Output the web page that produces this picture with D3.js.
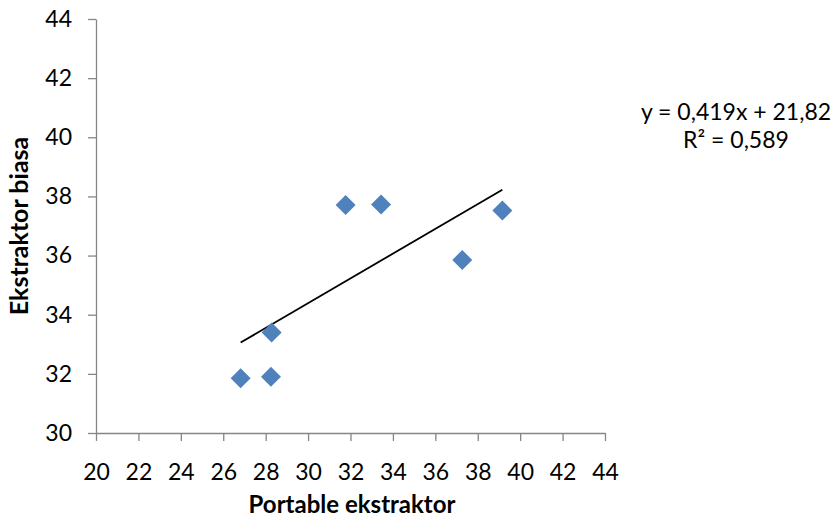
<!DOCTYPE html>
<html>
<head>
<meta charset="utf-8">
<script src="https://cdn.jsdelivr.net/npm/d3@7"></script>
<style>
  html, body { margin: 0; padding: 0; background: #fff; }
  svg { display: block; font-family: Lato, "Open Sans", sans-serif; }
</style>
</head>
<body>
<svg id="chart" width="838" height="519"></svg>
<script>
// Measurements: portable extractor (x) vs. regular extractor (y)
const portable = [26.82, 28.25, 28.28, 31.77, 33.44, 37.27, 39.16];
const biasa    = [31.85, 31.90, 33.40, 37.71, 37.73, 35.85, 37.52];

// Linear trendline as reported
const slope = 0.419;
const intercept = 21.82;
const rSquared = 0.589;

const xTicks = [20, 22, 24, 26, 28, 30, 32, 34, 36, 38, 40, 42, 44];
const yTicks = [30, 32, 34, 36, 38, 40, 42, 44];

const svg = d3.select("#chart");
const plot = { left: 96, right: 605, top: 19, bottom: 433 };

const x = d3.scaleLinear().domain([20, 44]).range([plot.left, plot.right]);
const y = d3.scaleLinear().domain([30, 44]).range([plot.bottom, plot.top]);

const axisColor = "#868686";
const tickFont = 23;
const fmt = d => String(d);

// Y axis
const gy = svg.append("g")
  .attr("transform", `translate(${plot.left},0)`)
  .call(d3.axisLeft(y).tickValues(yTicks).tickFormat(fmt).tickSizeOuter(0).tickSizeInner(8).tickPadding(16));
gy.select(".domain").attr("stroke", axisColor).attr("stroke-width", 1.3);
gy.selectAll(".tick line").attr("stroke", axisColor).attr("stroke-width", 1.3);
gy.selectAll(".tick text").attr("fill", "#000").attr("font-size", tickFont).attr("font-family", "Lato, sans-serif");

// X axis
const gx = svg.append("g")
  .attr("transform", `translate(0,${plot.bottom})`)
  .call(d3.axisBottom(x).tickValues(xTicks).tickFormat(fmt).tickSizeOuter(0).tickSizeInner(8).tickPadding(23));
gx.select(".domain").attr("stroke", axisColor).attr("stroke-width", 1.3);
gx.selectAll(".tick line").attr("stroke", axisColor).attr("stroke-width", 1.3);
gx.selectAll(".tick text").attr("fill", "#000").attr("font-size", tickFont).attr("font-family", "Lato, sans-serif");

// Trendline over the observed x range
const xMin = d3.min(portable), xMax = d3.max(portable);
const trend = [xMin, xMax].map(v => [v, slope * v + intercept]);
svg.append("path")
  .datum(trend)
  .attr("d", d3.line().x(d => x(d[0])).y(d => y(d[1])))
  .attr("stroke", "#000")
  .attr("stroke-width", 1.8)
  .attr("fill", "none");

// Diamond markers
const diamond = d3.symbol().type(d3.symbolSquare).size(200);
svg.append("g").selectAll("path")
  .data(portable.map((v, i) => [v, biasa[i]]))
  .join("path")
  .attr("d", diamond)
  .attr("transform", d => `translate(${x(d[0])},${y(d[1])}) rotate(45)`)
  .attr("fill", "#4F81BD");

// Axis titles
svg.append("text")
  .attr("x", 352)
  .attr("y", 513)
  .attr("text-anchor", "middle")
  .attr("font-size", 24)
  .attr("font-weight", "bold")
  .text("Portable ekstraktor");

svg.append("text")
  .attr("transform", `translate(28,226) rotate(-90)`)
  .attr("text-anchor", "middle")
  .attr("font-size", 25)
  .attr("font-weight", "bold")
  .text("Ekstraktor biasa");

// Trendline equation
const fmtComma = (v, d) => v.toFixed(d).replace(".", ",");
const eq = svg.append("text")
  .attr("text-anchor", "middle")
  .attr("font-size", 23);
eq.append("tspan").attr("x", 736).attr("y", 120)
  .text(`y = ${fmtComma(slope, 3)}x + ${fmtComma(intercept, 2)}`);
eq.append("tspan").attr("x", 736).attr("y", 148)
  .text(`R² = ${fmtComma(rSquared, 3)}`);
</script>
</body>
</html>
